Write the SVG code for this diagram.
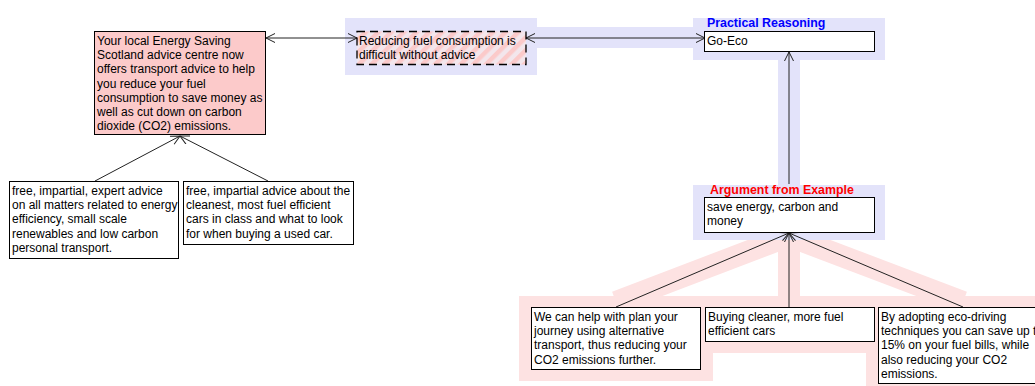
<svg xmlns="http://www.w3.org/2000/svg" width="1035" height="386" viewBox="0 0 1035 386">
<style>
text{font-family:"Liberation Sans",Arial,sans-serif;font-size:12px;fill:#000}
.box{fill:#fff;stroke:#000;stroke-width:1}
.lbl{font-weight:bold;font-size:12.4px}
.conn{stroke:#222;stroke-width:1;fill:none}
.lav{fill:#e3e3fa}
.pinkband{stroke:#fde2e2;stroke-width:22;fill:none}
.pink{fill:#fde2e2}
</style>
<defs>
<marker id="arr" viewBox="0 0 10 10" refX="10" refY="5" markerWidth="10" markerHeight="10" markerUnits="userSpaceOnUse" orient="auto">
<path d="M1,0.5 L10,5 L1,9.5" fill="none" stroke="#222" stroke-width="1"/>
</marker>
<marker id="arrs" viewBox="0 0 10 10" refX="10" refY="5" markerWidth="10" markerHeight="10" markerUnits="userSpaceOnUse" orient="auto-start-reverse">
<path d="M1,0.5 L10,5 L1,9.5" fill="none" stroke="#222" stroke-width="1"/>
</marker>
<pattern id="hatch" width="9" height="9" patternUnits="userSpaceOnUse" patternTransform="rotate(45)">
<rect width="9" height="9" fill="#f3e6ec"/>
<rect width="4.5" height="9" fill="#fbcaca"/>
</pattern>
</defs>

<g id="highlights">
<g id="pink-region">
<line class="pinkband" x1="789" y1="236" x2="616" y2="302"/>
<line class="pinkband" x1="789" y1="236" x2="789" y2="302"/>
<line class="pinkband" x1="789" y1="236" x2="963" y2="302"/>
<rect class="pink" x="519" y="296" width="194" height="85"/>
<rect class="pink" x="693" y="296" width="194" height="57"/>
<rect class="pink" x="866" y="296" width="194" height="100"/>
</g>
<g id="lavender-region">
<rect class="lav" x="345" y="18" width="192" height="57"/>
<rect class="lav" x="537" y="27" width="156" height="21"/>
<rect class="lav" x="693" y="18" width="192" height="42"/>
<rect class="lav" x="778" y="60" width="22" height="125"/>
<rect class="lav" x="693" y="185" width="192" height="55"/>
</g>
</g>

<g id="connectors">
<line class="conn" x1="266" y1="38" x2="357" y2="38" marker-start="url(#arrs)" marker-end="url(#arr)"/>
<line class="conn" x1="526" y1="38" x2="705" y2="38" marker-start="url(#arrs)" marker-end="url(#arr)"/>
<line class="conn" x1="95" y1="181" x2="180" y2="136" marker-end="url(#arr)"/>
<line class="conn" x1="268" y1="181" x2="180" y2="136" marker-end="url(#arr)"/>
<line class="conn" x1="789" y1="184" x2="789" y2="52" marker-end="url(#arr)"/>
<line class="conn" x1="616" y1="307" x2="789" y2="233" marker-end="url(#arr)"/>
<line class="conn" x1="789" y1="307" x2="789" y2="233" marker-end="url(#arr)"/>
<line class="conn" x1="963" y1="307" x2="789" y2="233" marker-end="url(#arr)"/>
</g>

<g id="node-energy-saving">
<rect x="94.5" y="31.5" width="171" height="103" fill="#fccaca" stroke="#000"/>
<text x="97" y="45">Your local Energy Saving</text>
<text x="97" y="59.2">Scotland advice centre now</text>
<text x="97" y="73.4">offers transport advice to help</text>
<text x="97" y="87.6">you reduce your fuel</text>
<text x="97" y="101.8">consumption to save money as</text>
<text x="97" y="116">well as cut down on carbon</text>
<text x="97" y="130.2">dioxide (CO2) emissions.</text>
</g>

<g id="node-expert-advice">
<rect class="box" x="9.5" y="181.5" width="169" height="77"/>
<text x="12" y="195">free, impartial, expert advice</text>
<text x="12" y="209.2">on all matters related to energy</text>
<text x="12" y="223.4">efficiency, small scale</text>
<text x="12" y="237.6">renewables and low carbon</text>
<text x="12" y="251.8">personal transport.</text>
</g>

<g id="node-cars-advice">
<rect class="box" x="183.5" y="181.5" width="170" height="63"/>
<text x="186" y="195">free, impartial advice about the</text>
<text x="186" y="209.2">cleanest, most fuel efficient</text>
<text x="186" y="223.4">cars in class and what to look</text>
<text x="186" y="237.6">for when buying a used car.</text>
</g>

<g id="node-reducing-fuel">
<rect x="357" y="31.5" width="169" height="33" fill="url(#hatch)" stroke="#000" stroke-width="1.3" stroke-dasharray="8,5"/>
<text x="359" y="45">Reducing fuel consumption is</text>
<text x="359" y="59.2">difficult without advice</text>
</g>

<g id="node-go-eco">
<text class="lbl" x="707" y="27" fill="#0000ff" style="fill:#0000ff">Practical Reasoning</text>
<rect class="box" x="704.5" y="31.5" width="170" height="20"/>
<text x="707" y="45">Go-Eco</text>
</g>

<g id="node-save-energy">
<text class="lbl" x="710" y="194" style="fill:#ff0000">Argument from Example</text>
<rect class="box" x="704.5" y="197.5" width="170" height="35"/>
<text x="707" y="211">save energy, carbon and</text>
<text x="707" y="225.2">money</text>
</g>

<g id="node-plan-journey">
<rect class="box" x="531.5" y="307.5" width="169" height="62"/>
<text x="534" y="321">We can help with plan your</text>
<text x="534" y="335.2">journey using alternative</text>
<text x="534" y="349.4">transport, thus reducing your</text>
<text x="534" y="363.6">CO2 emissions further.</text>
</g>

<g id="node-buying-cleaner">
<rect class="box" x="705.5" y="307.5" width="169" height="34"/>
<text x="708" y="321">Buying cleaner, more fuel</text>
<text x="708" y="335.2">efficient cars</text>
</g>

<g id="node-eco-driving">
<rect class="box" x="878.5" y="307.5" width="170" height="76"/>
<text x="881" y="321">By adopting eco-driving</text>
<text x="881" y="335.2">techniques you can save up to</text>
<text x="881" y="349.4">15% on your fuel bills, while</text>
<text x="881" y="363.6">also reducing your CO2</text>
<text x="881" y="377.8">emissions.</text>
</g>
</svg>
